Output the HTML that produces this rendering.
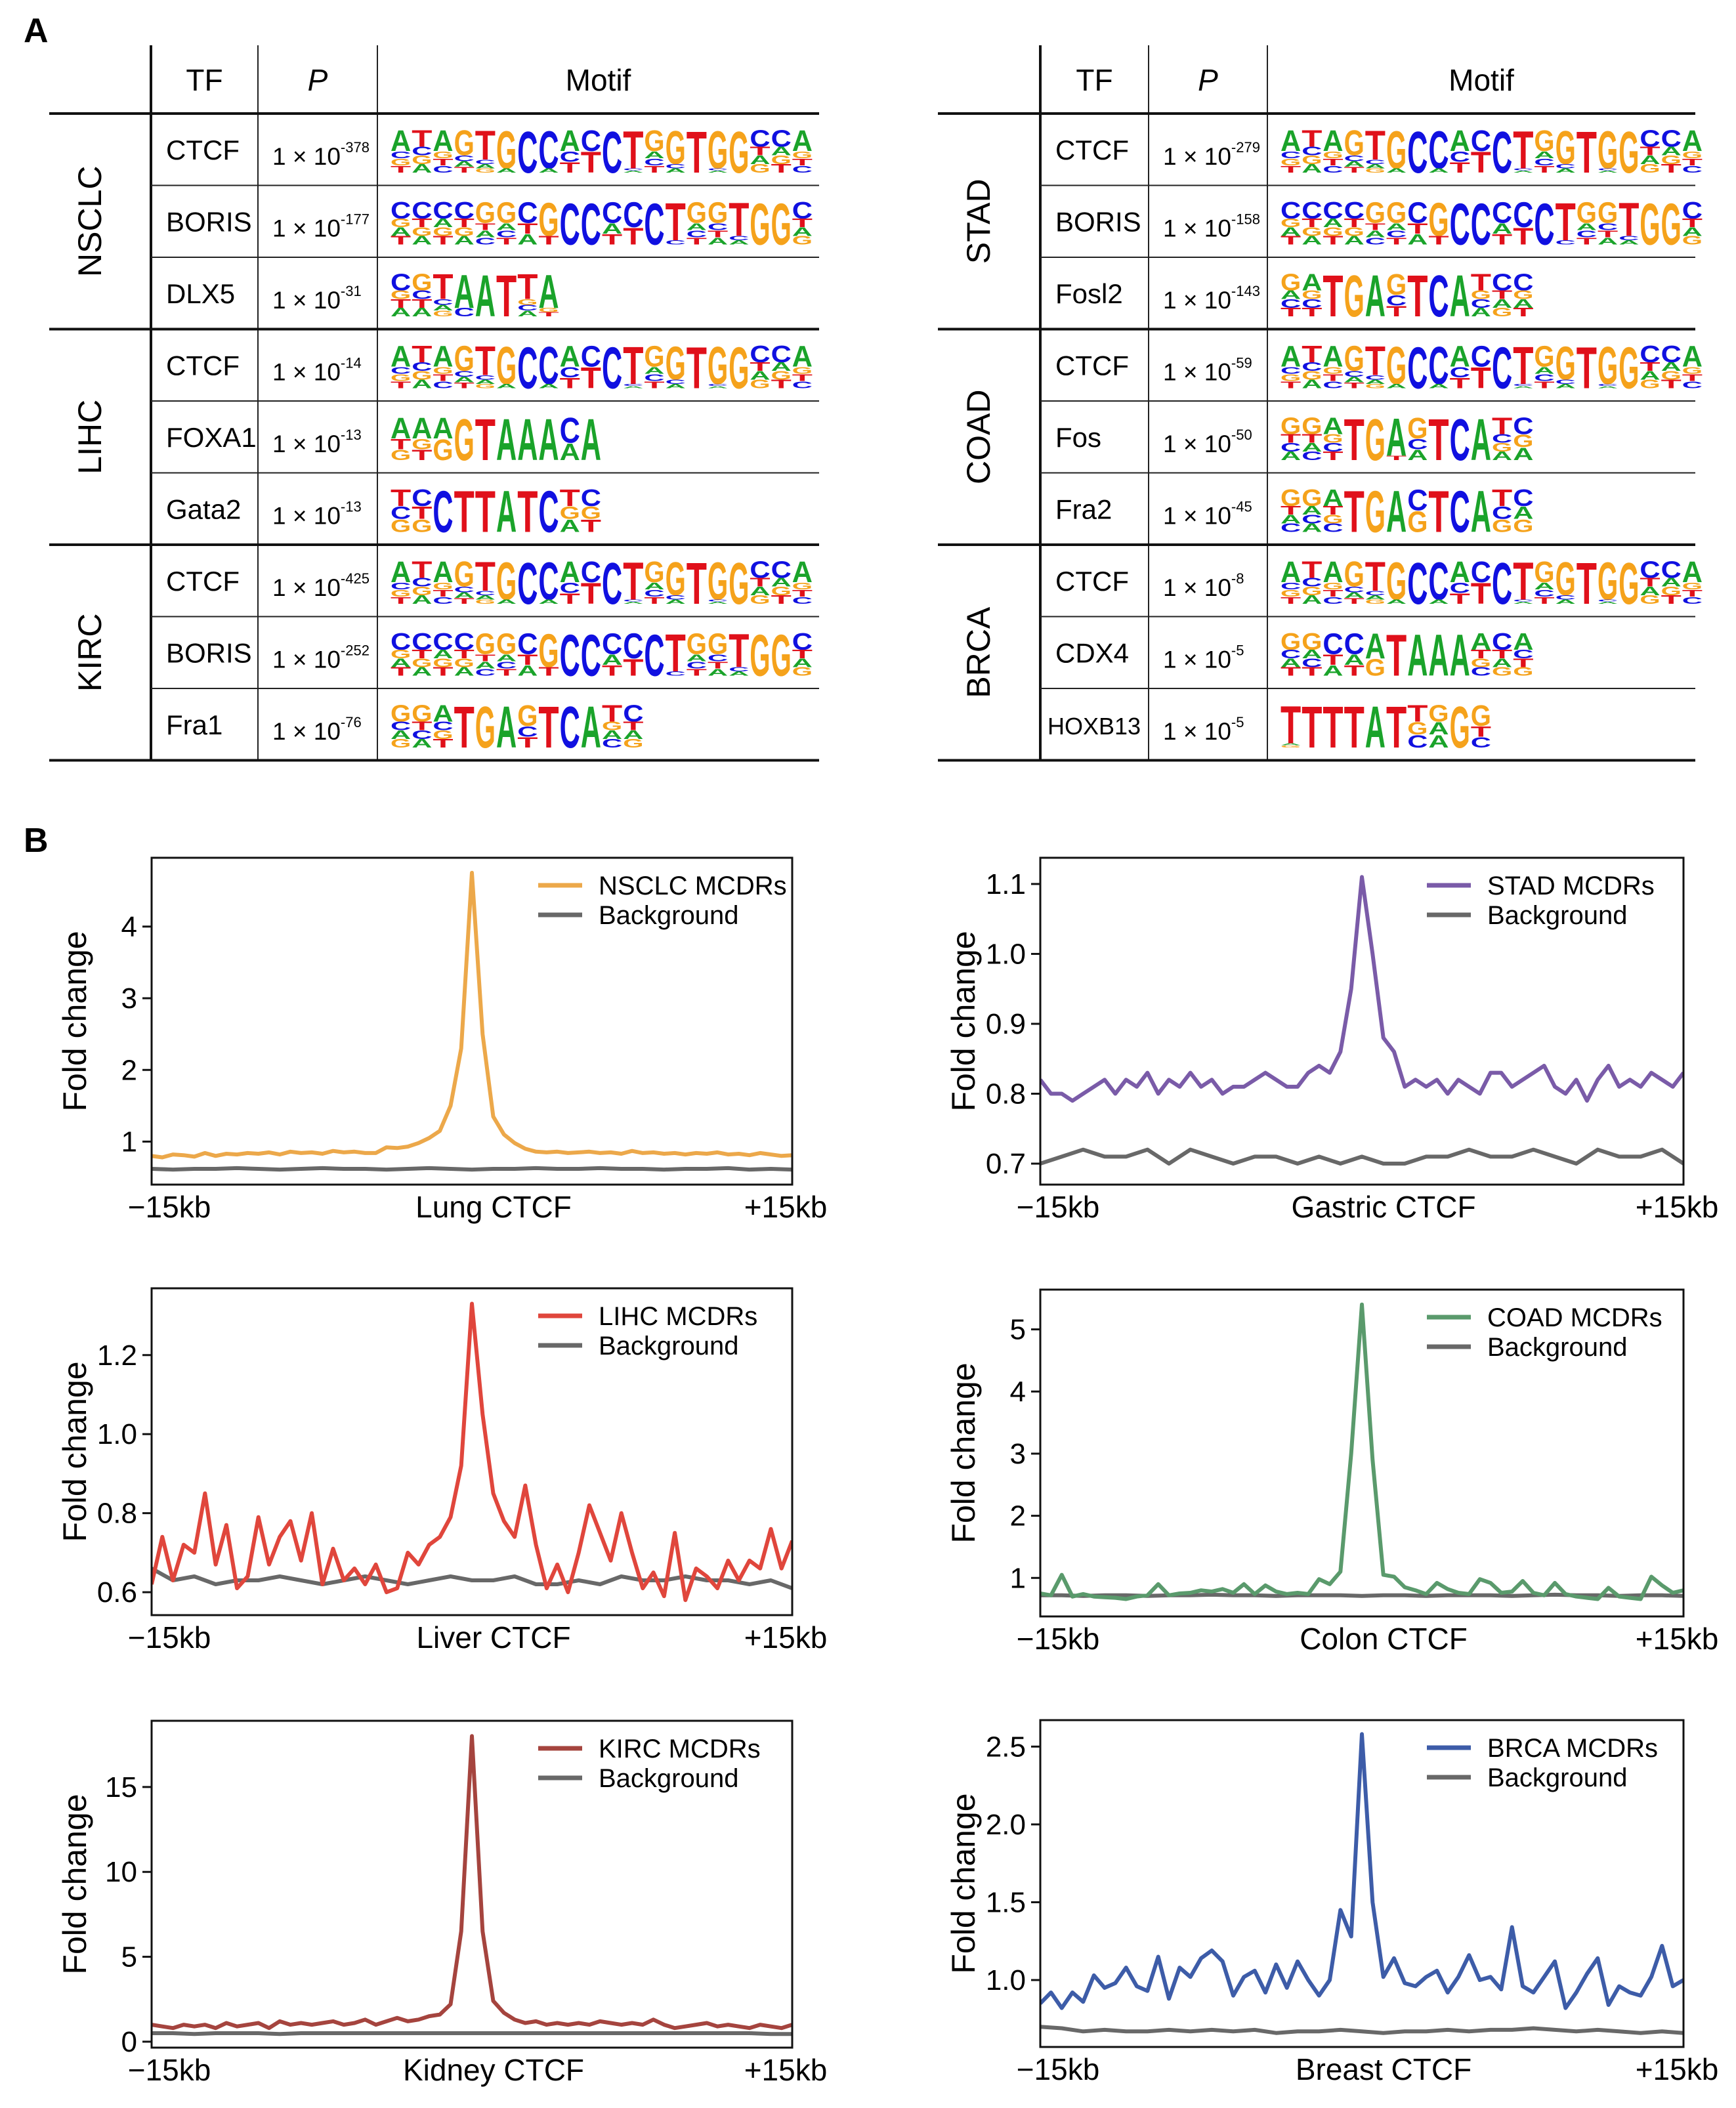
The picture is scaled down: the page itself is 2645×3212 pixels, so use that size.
<!DOCTYPE html>
<html><head><meta charset="utf-8">
<style>
html,body{margin:0;padding:0;background:#fff;}
svg{display:block;font-family:"Liberation Sans",Arial,sans-serif;}
</style></head>
<body>
<svg id="fig" width="2645" height="3212" viewBox="0 0 2645 3212" xmlns="http://www.w3.org/2000/svg">
<rect x="0" y="0" width="2645" height="3212" fill="#fff"/>
<text x="36" y="64" font-size="52" font-weight="bold">A</text>
<text x="36" y="1298" font-size="52" font-weight="bold">B</text>
</svg>
<script>
// ---------- chart data ----------
const xTickLabels = ["\u221215kb", "+15kb"];
const nsclcTicks = [1, 2, 3, 4];
const nsclcTickLabels = ["1", "2", "3", "4"];
const nsclcValues = [0.80,0.78,0.82,0.81,0.79,0.84,0.80,0.83,0.82,0.84,
 0.83,0.85,0.82,0.86,0.84,0.85,0.83,0.87,0.85,0.86,
 0.84,0.84,0.92,0.91,0.93,0.98,1.05,1.15,1.5,2.3,
 4.75,
 2.5,1.35,1.1,0.98,0.90,0.86,0.85,0.86,0.84,0.85,
 0.86,0.84,0.85,0.83,0.87,0.84,0.85,0.83,0.84,0.82,
 0.84,0.83,0.85,0.82,0.83,0.81,0.84,0.82,0.80,0.81];
const nsclcBackground = [0.62,0.61,0.62,0.62,0.63,0.62,0.61,0.62,0.63,0.62,0.62,0.61,0.62,0.63,0.62,0.61,0.62,0.62,0.63,0.62,0.62,0.63,0.62,0.62,0.61,0.62,0.62,0.63,0.61,0.62,0.61];

const stadTicks = [0.7, 0.8, 0.9, 1.0, 1.1];
const stadTickLabels = ["0.7", "0.8", "0.9", "1.0", "1.1"];
const stadValues = [0.82,0.80,0.80,0.79,0.80,0.81,0.82,0.80,0.82,0.81,
 0.83,0.80,0.82,0.81,0.83,0.81,0.82,0.80,0.81,0.81,
 0.82,0.83,0.82,0.81,0.81,0.83,0.84,0.83,0.86,0.95,
 1.11,
 1.0,0.88,0.86,0.81,0.82,0.81,0.82,0.80,0.82,0.81,
 0.80,0.83,0.83,0.81,0.82,0.83,0.84,0.81,0.80,0.82,
 0.79,0.82,0.84,0.81,0.82,0.81,0.83,0.82,0.81,0.83];
const stadBackground = [0.70,0.71,0.72,0.71,0.71,0.72,0.70,0.72,0.71,0.70,0.71,0.71,0.70,0.71,0.70,0.71,0.70,0.70,0.71,0.71,0.72,0.71,0.71,0.72,0.71,0.70,0.72,0.71,0.71,0.72,0.70];

const lihcTicks = [0.6, 0.8, 1.0, 1.2];
const lihcTickLabels = ["0.6", "0.8", "1.0", "1.2"];
const lihcValues = [0.62,0.74,0.63,0.72,0.70,0.85,0.67,0.77,0.61,0.64,
 0.79,0.67,0.74,0.78,0.68,0.80,0.62,0.71,0.63,0.66,
 0.62,0.67,0.60,0.61,0.70,0.67,0.72,0.74,0.79,0.92,
 1.33,
 1.05,0.85,0.78,0.74,0.87,0.72,0.61,0.67,0.60,0.70,
 0.82,0.75,0.68,0.80,0.70,0.61,0.65,0.59,0.75,0.58,
 0.66,0.64,0.61,0.68,0.63,0.68,0.66,0.76,0.66,0.73];
const lihcBackground = [0.66,0.63,0.64,0.62,0.63,0.63,0.64,0.63,0.62,0.63,0.64,0.63,0.62,0.63,0.64,0.63,0.63,0.64,0.62,0.62,0.63,0.62,0.64,0.63,0.63,0.64,0.63,0.63,0.62,0.63,0.61];

const coadTicks = [1, 2, 3, 4, 5];
const coadTickLabels = ["1", "2", "3", "4", "5"];
const coadValues = [0.75,0.72,1.05,0.70,0.74,0.70,0.69,0.68,0.66,0.70,
 0.72,0.90,0.72,0.75,0.76,0.80,0.78,0.82,0.76,0.90,
 0.74,0.88,0.78,0.74,0.76,0.74,0.98,0.90,1.1,3.0,
 5.4,
 2.9,1.05,1.02,0.85,0.80,0.74,0.92,0.82,0.76,0.74,
 0.98,0.92,0.76,0.78,0.95,0.76,0.72,0.92,0.74,0.70,
 0.68,0.66,0.84,0.70,0.68,0.66,1.02,0.88,0.76,0.80];
const coadBackground = [0.72,0.72,0.71,0.72,0.72,0.71,0.72,0.72,0.73,0.72,0.72,0.71,0.72,0.72,0.72,0.71,0.72,0.72,0.71,0.72,0.72,0.72,0.71,0.72,0.73,0.72,0.72,0.71,0.72,0.72,0.71];

const kircTicks = [0, 5, 10, 15];
const kircTickLabels = ["0", "5", "10", "15"];
const kircValues = [1.0,0.9,0.8,1.0,0.9,1.0,0.8,1.1,0.9,1.0,
 1.1,0.8,1.2,1.0,1.1,1.0,1.1,1.2,1.0,1.1,
 1.3,1.0,1.2,1.4,1.2,1.3,1.5,1.6,2.2,6.5,
 18,
 6.5,2.4,1.7,1.3,1.1,1.2,1.0,1.1,1.0,1.1,
 1.0,1.2,1.1,1.0,1.1,1.0,1.3,1.0,0.8,0.9,
 1.0,1.1,0.9,1.0,0.9,0.8,1.0,0.9,0.8,1.0];
const kircBackground = [0.5,0.5,0.45,0.5,0.5,0.5,0.45,0.5,0.5,0.5,0.5,0.5,0.5,0.5,0.5,0.5,0.5,0.5,0.5,0.5,0.5,0.5,0.5,0.5,0.5,0.5,0.5,0.5,0.5,0.45,0.45];

const brcaTicks = [1.0, 1.5, 2.0, 2.5];
const brcaTickLabels = ["1.0", "1.5", "2.0", "2.5"];
const brcaValues = [0.85,0.92,0.82,0.92,0.86,1.03,0.95,0.98,1.08,0.96,
 0.93,1.15,0.88,1.08,1.02,1.14,1.19,1.12,0.90,1.02,
 1.06,0.92,1.10,0.95,1.12,1.0,0.90,1.0,1.45,1.28,
 2.58,
 1.5,1.02,1.14,0.98,0.96,1.02,1.06,0.92,1.02,1.16,
 1.0,1.02,0.94,1.34,0.96,0.92,1.02,1.12,0.82,0.92,
 1.04,1.14,0.84,0.96,0.92,0.90,1.02,1.22,0.96,1.00];
const brcaBackground = [0.70,0.69,0.67,0.68,0.67,0.67,0.68,0.67,0.68,0.67,0.68,0.66,0.67,0.67,0.68,0.67,0.66,0.67,0.67,0.68,0.67,0.68,0.68,0.69,0.68,0.67,0.68,0.67,0.66,0.67,0.66];

const NS = 'http://www.w3.org/2000/svg';
const svg = document.getElementById('fig');
function mk(tag, attrs, parent) {
  const e = document.createElementNS(NS, tag);
  for (const k in attrs) e.setAttribute(k, attrs[k]);
  (parent || svg).appendChild(e);
  return e;
}
function txt(str, attrs, parent) { const e = mk('text', attrs, parent); e.textContent = str; return e; }

// ---------- motif tables ----------
const LCOL = {A: '#1aa32a', C: '#1010e0', G: '#f5a21b', T: '#e0101a'};
const CTCF = [["ACGT",5],["TCGA",4],["AGTC",5],["GCAT",6],["TCAG",7],["GA",9],["C",9],["CA",9],["ACT",5],["CT",5],["C",9],["TCA",9],["GACT",5],["GCA",8],["T",9],["GCA",9],["G",9],["CTAG",4],["CAGT",4],["AGTC",5]];
const BORIS = [["CGAT",4],["CTGA",4],["CAGT",4],["CTGA",4],["GTAC",5],["GACT",5],["CTA",5],["GT",8],["C",9],["C",9],["CAT",5],["CT",6],["C",9],["TC",9],["GACT",5],["GCTA",5],["TCA",8],["G",9],["G",9],["CTAG",4]];
const DLX5 = [["CGTA",4],["GCTA",4],["TCAG",6],["AC",8],["A",9],["T",9],["TGCA",6],["AGT",8]];
const FOXA1 = [["ATG",5],["AGT",5],["AG",5],["G",8],["T",9],["A",9],["A",9],["A",9],["CA",6],["A",9]];
const GATA2 = [["TCG",4],["CTG",4],["C",8],["T",9],["T",9],["A",9],["T",9],["C",9],["TGA",4],["CGT",4]];
const FRA1 = [["GCAG",4],["GTCA",4],["ACGT",4],["T",9],["G",9],["A",9],["GCT",5],["T",9],["C",9],["A",9],["TGAC",4],["CTAG",4]];
const FOSL2 = [["GACT",4],["AGCT",4],["T",9],["G",9],["A",9],["GCT",5],["T",9],["C",9],["A",9],["TGCA",4],["CTAG",4],["CGAT",4]];
const FOS = [["GTCA",4],["GTAC",4],["AGCT",4],["T",9],["G",9],["AT",9],["GCA",5],["T",9],["C",9],["A",9],["TCGA",4],["CGA",4]];
const FRA2 = [["GTAC",4],["GACA",4],["ATGC",4],["T",9],["G",9],["A",9],["CG",5],["T",9],["C",9],["A",9],["TCG",4],["CAG",4]];
const CDX4 = [["GCAT",4],["GACT",4],["CTA",5],["CAT",5],["AG",6],["T",9],["A",9],["A",9],["A",9],["ATGC",4],["CTAG",4],["ACTG",4]];
const HOXB13 = [["TAG",9],["T",9],["T",9],["T",9],["A",9],["T",9],["TGC",4],["GAA",4],["G",7],["GTC",5]];

const leftGroups = [
 {name: "NSCLC", rows: [["CTCF","-378",CTCF],["BORIS","-177",BORIS],["DLX5","-31",DLX5]]},
 {name: "LIHC", rows: [["CTCF","-14",CTCF],["FOXA1","-13",FOXA1],["Gata2","-13",GATA2]]},
 {name: "KIRC", rows: [["CTCF","-425",CTCF],["BORIS","-252",BORIS],["Fra1","-76",FRA1]]}
];
const rightGroups = [
 {name: "STAD", rows: [["CTCF","-279",CTCF],["BORIS","-158",BORIS],["Fosl2","-143",FOSL2]]},
 {name: "COAD", rows: [["CTCF","-59",CTCF],["Fos","-50",FOS],["Fra2","-45",FRA2]]},
 {name: "BRCA", rows: [["CTCF","-8",CTCF],["CDX4","-5",CDX4],["HOXB13","-5",HOXB13]]}
];

function drawLogo(cols, x0, yTop, h, colW, parent) {
  cols.forEach((c, i) => {
    const letters = c[0];
    const d = c[1] / 10;
    let heights = [];
    if (letters.length === 1) heights = [h];
    else {
      heights.push(h * d);
      for (let k = 1; k < letters.length; k++) heights.push(h * (1 - d) / (letters.length - 1));
    }
    let y = yTop;
    for (let k = 0; k < letters.length; k++) {
      const lh = heights[k];
      const L = letters[k];
      const t = txt(L, {x: 0, y: 0, 'font-size': 100, 'font-weight': 'bold', fill: LCOL[L],
        textLength: 72, lengthAdjust: 'spacingAndGlyphs',
        transform: `translate(${x0 + i * colW},${y + lh}) scale(${(colW - 1) / 72},${lh / 73})`}, parent);
      y += lh;
    }
  });
}

function drawTable(g, x0, tfL, pL, mL, right, groups, side) {
  const top = 69, hb = 173, rh = 109.5;
  const tg = mk('g', {}, svg);
  
  
  const h1 = txt("TF", {x: (tfL + pL) / 2, y: 138, 'font-size': 46, 'text-anchor': 'middle'}, tg);
  
  
  const h2 = txt("P", {x: (pL + mL) / 2, y: 138, 'font-size': 46, 'font-style': 'italic', 'text-anchor': 'middle'}, tg);
  
  
  const h3 = txt("Motif", {x: (mL + right) / 2, y: 138, 'font-size': 46, 'text-anchor': 'middle'}, tg);
  
  
  const bottom = hb + rh * 9;
  mk('line', {x1: tfL, y1: top, x2: tfL, y2: bottom, stroke: '#111', 'stroke-width': 4}, tg);
  mk('line', {x1: pL, y1: top, x2: pL, y2: bottom, stroke: '#222', 'stroke-width': 2}, tg);
  mk('line', {x1: mL, y1: top, x2: mL, y2: bottom, stroke: '#222', 'stroke-width': 2}, tg);
  mk('line', {x1: x0, y1: hb, x2: right, y2: hb, stroke: '#111', 'stroke-width': 4}, tg);
  groups.forEach((grp, gi) => {
    const gy = hb + gi * 3 * rh;
    const gl = txt(grp.name, {x: 0, y: 0, 'font-size': 50, 'text-anchor': 'middle', 'dominant-baseline': 'central',
      transform: `translate(${x0 + 62},${gy + 1.5 * rh}) rotate(-90)`}, tg);
    
    
    grp.rows.forEach((r, ri) => {
      const ry = gy + ri * rh;
      const small = r[0].length > 5;
      const tf = txt(r[0], {x: small ? tfL + 11 : tfL + 23, y: ry + 70, 'font-size': small ? 36 : 42}, tg);
      
      
      const pv = txt("1 \u00d7 10", {x: pL + 22, y: ry + 78, 'font-size': 37}, tg);
      const sup = mk('tspan', {dy: -19, 'font-size': 22}, pv);
      sup.textContent = r[1];
      
      
      const lg = mk('g', {}, tg);
      
      
      drawLogo(r[2], mL + 20, ry + 24, 66, 32.2, lg);
      if (ri < 2) mk('line', {x1: tfL, y1: ry + rh, x2: right, y2: ry + rh, stroke: '#222', 'stroke-width': 2}, tg);
    });
    mk('line', {x1: x0, y1: gy + 3 * rh, x2: right, y2: gy + 3 * rh, stroke: '#111', 'stroke-width': 4}, tg);
  });
}
drawTable(svg, 75, 230, 393, 575, 1248, leftGroups, 'left');
drawTable(svg, 1429, 1585, 1750, 1931, 2583, rightGroups, 'right');

// ---------- profile charts ----------
const panels = [
 {id: 'nsclc', left: 231, top: 1307, w: 976, ymin: 0.40, ymax: 4.96, ticks: nsclcTicks, labels: nsclcTickLabels, vals: nsclcValues, bg: nsclcBackground, color: '#eca84a', name: 'NSCLC MCDRs', xl: 'Lung CTCF'},
 {id: 'stad', left: 1585, top: 1307, w: 980, ymin: 0.670, ymax: 1.1375, ticks: stadTicks, labels: stadTickLabels, vals: stadValues, bg: stadBackground, color: '#7a5ba8', name: 'STAD MCDRs', xl: 'Gastric CTCF'},
 {id: 'lihc', left: 231, top: 1963, w: 976, ymin: 0.542, ymax: 1.369, ticks: lihcTicks, labels: lihcTickLabels, vals: lihcValues, bg: lihcBackground, color: '#e0463c', name: 'LIHC MCDRs', xl: 'Liver CTCF'},
 {id: 'coad', left: 1585, top: 1965, w: 980, ymin: 0.38, ymax: 5.64, ticks: coadTicks, labels: coadTickLabels, vals: coadValues, bg: coadBackground, color: '#5a9a6c', name: 'COAD MCDRs', xl: 'Colon CTCF'},
 {id: 'kirc', left: 231, top: 2622, w: 976, ymin: -0.35, ymax: 18.9, ticks: kircTicks, labels: kircTickLabels, vals: kircValues, bg: kircBackground, color: '#a5443e', name: 'KIRC MCDRs', xl: 'Kidney CTCF'},
 {id: 'brca', left: 1585, top: 2621, w: 980, ymin: 0.57, ymax: 2.67, ticks: brcaTicks, labels: brcaTickLabels, vals: brcaValues, bg: brcaBackground, color: '#3d5ca8', name: 'BRCA MCDRs', xl: 'Breast CTCF'}
];
const PH = 498;
panels.forEach(p => {
  const g = mk('g', {}, svg);
  
  
  const xS = (i, n) => p.left + (p.w * i) / (n - 1);
  const yS = v => p.top + PH - (v - p.ymin) / (p.ymax - p.ymin) * PH;
  const cp = mk('clipPath', {id: 'clip-' + p.id}, g);
  mk('rect', {x: p.left, y: p.top, width: p.w, height: PH}, cp);
  const lineFor = (arr) => arr.map((v, i) => (i ? 'L' : 'M') + xS(i, arr.length).toFixed(1) + ' ' + yS(v).toFixed(1)).join(' ');
  const bgp = mk('path', {d: lineFor(p.bg), fill: 'none', stroke: '#686868', 'stroke-width': 6, 'stroke-linejoin': 'round', 'clip-path': `url(#clip-${p.id})`}, g);
  
  
  const mp = mk('path', {d: lineFor(p.vals), fill: 'none', stroke: p.color, 'stroke-width': 6, 'stroke-linejoin': 'round', 'clip-path': `url(#clip-${p.id})`}, g);
  
  
  const frame = mk('rect', {x: p.left, y: p.top, width: p.w, height: PH, fill: 'none', stroke: '#111', 'stroke-width': 3}, g);
  
  
  p.ticks.forEach((t, i) => {
    const y = yS(t);
    mk('line', {x1: p.left - 14, y1: y, x2: p.left, y2: y, stroke: '#111', 'stroke-width': 3}, g);
    const tl = txt(p.labels[i], {x: p.left - 22, y: y + 15, 'font-size': 44, 'text-anchor': 'end'}, g);
    
    
  });
  const yt = txt('Fold change', {x: 0, y: 0, 'font-size': 50, 'text-anchor': 'middle', 'dominant-baseline': 'central',
    transform: `translate(${p.left - 117},${p.top + PH / 2}) rotate(-90)`}, g);
  
  
  const xa = txt(xTickLabels[0], {x: p.left + 27, y: p.top + PH + 50, 'font-size': 46, 'text-anchor': 'middle'}, g);
  
  
  const xb = txt(xTickLabels[1], {x: p.left + p.w - 10, y: p.top + PH + 50, 'font-size': 46, 'text-anchor': 'middle'}, g);
  
  
  const xc = txt(p.xl, {x: p.left + p.w / 2 + 33, y: p.top + PH + 50, 'font-size': 46, 'text-anchor': 'middle'}, g);
  
  
  const lx = p.left + 589;
  const l1 = mk('line', {x1: lx, y1: p.top + 42, x2: lx + 67, y2: p.top + 42, stroke: p.color, 'stroke-width': 7}, g);
  
  
  const t1 = txt(p.name, {x: lx + 92, y: p.top + 56, 'font-size': 40}, g);
  
  
  const l2 = mk('line', {x1: lx, y1: p.top + 87, x2: lx + 67, y2: p.top + 87, stroke: '#686868', 'stroke-width': 7}, g);
  
  
  const t2 = txt('Background', {x: lx + 92, y: p.top + 101, 'font-size': 40}, g);
  
  
});
</script>
</body></html>
